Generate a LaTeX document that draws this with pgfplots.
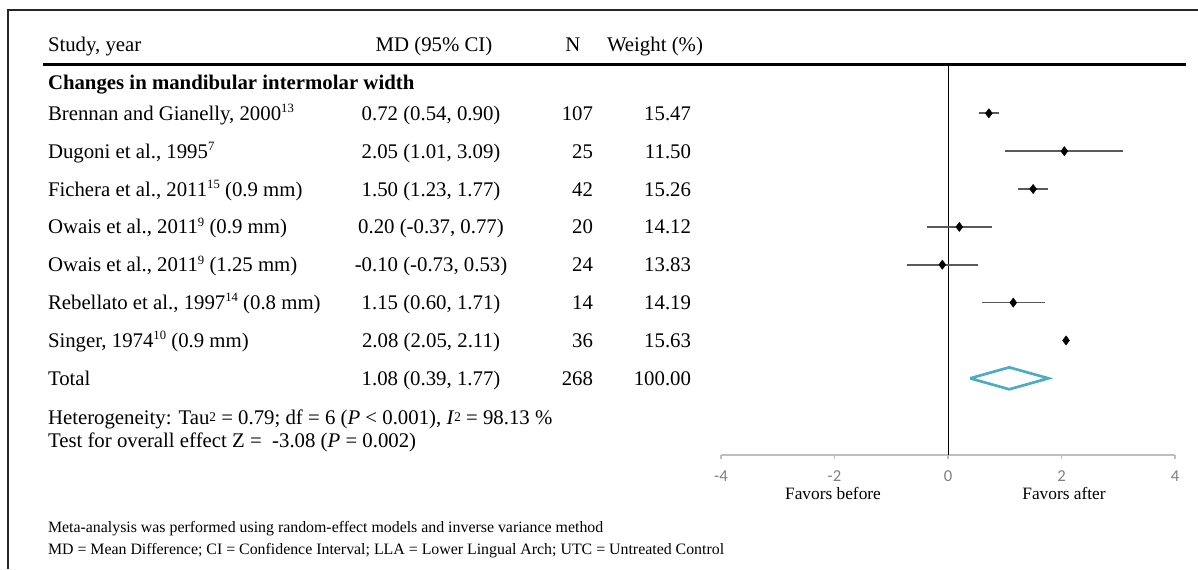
\documentclass[border=0pt]{standalone}
\usepackage{pgfplots}
\pgfplotsset{compat=1.18}
\usepackage{pgfplotstable}
\usepackage{fontspec}
\setmainfont{Liberation Serif}
\newfontfamily\tickfont{Carlito}

\definecolor{pooled}{HTML}{4BACC6}
\definecolor{cigray}{HTML}{595959}
\definecolor{axgray}{HTML}{BFBFBF}
\definecolor{tickgray}{HTML}{7F7F7F}

\newcommand\bodyfont{\fontsize{15.6pt}{18pt}\selectfont}
\newcommand\notefont{\fontsize{11.9pt}{14pt}\selectfont}
\newcommand\sidefont{\fontsize{13pt}{15pt}\selectfont}
\newcommand\refno[1]{\raisebox{0.8ex}{\fontsize{9.5pt}{10pt}\selectfont #1}}

% row position (counted from the bottom), mean difference, 95% CI
\pgfplotstableread{
row md lo hi
8 0.72 0.54 0.90
7 2.05 1.01 3.09
6 1.50 1.23 1.77
5 0.20 -0.37 0.77
4 -0.10 -0.73 0.53
3 1.15 0.60 1.71
2 2.08 2.05 2.11
}\studies

\begin{document}
\begin{tikzpicture}[x=0.75pt,y=-0.75pt,
  txt/.style={inner sep=0pt,outer sep=0pt,font=\bodyfont}]
\useasboundingbox (0,0) rectangle (1198,569);

% frame and header rule
\draw[line width=1.1pt,black!85] (8,569) -- (8,10) -- (1198,10);
\draw[line width=1.9pt] (43,64.5) -- (1186,64.5);

% header
\node[txt,anchor=base west] at (48,51.5) {Study, year};
\node[txt,anchor=base] at (434,51.5) {MD (95\% CI)};
\node[txt,anchor=base] at (573,51.5) {N};
\node[txt,anchor=base west] at (607,51.5) {Weight (\%)};

\node[txt,anchor=base west] at (48,89) {\bfseries Changes in mandibular intermolar width};

% study rows
\node[txt,anchor=base west] at (48,120.3) {Brennan and Gianelly, 2000\refno{13}};
\node[txt,anchor=base west] at (48,158.2) {Dugoni et al., 1995\refno{7}};
\node[txt,anchor=base west] at (48,196.0) {Fichera et al., 2011\refno{15} (0.9 mm)};
\node[txt,anchor=base west] at (48,233.9) {Owais et al., 2011\refno{9} (0.9 mm)};
\node[txt,anchor=base west] at (48,271.7) {Owais et al., 2011\refno{9} (1.25 mm)};
\node[txt,anchor=base west] at (48,309.6) {Rebellato et al., 1997\refno{14} (0.8 mm)};
\node[txt,anchor=base west] at (48,347.5) {Singer, 1974\refno{10} (0.9 mm)};
\node[txt,anchor=base west] at (48,385.3) {Total};

\node[txt,anchor=base] at (431,120.3) {0.72 (0.54, 0.90)};
\node[txt,anchor=base] at (431,158.2) {2.05 (1.01, 3.09)};
\node[txt,anchor=base] at (431,196.0) {1.50 (1.23, 1.77)};
\node[txt,anchor=base] at (431,233.9) {0.20 (-0.37, 0.77)};
\node[txt,anchor=base] at (431,271.7) {-0.10 (-0.73, 0.53)};
\node[txt,anchor=base] at (431,309.6) {1.15 (0.60, 1.71)};
\node[txt,anchor=base] at (431,347.5) {2.08 (2.05, 2.11)};
\node[txt,anchor=base] at (431,385.3) {1.08 (0.39, 1.77)};

\node[txt,anchor=base east] at (593,120.3) {107};
\node[txt,anchor=base east] at (593,158.2) {25};
\node[txt,anchor=base east] at (593,196.0) {42};
\node[txt,anchor=base east] at (593,233.9) {20};
\node[txt,anchor=base east] at (593,271.7) {24};
\node[txt,anchor=base east] at (593,309.6) {14};
\node[txt,anchor=base east] at (593,347.5) {36};
\node[txt,anchor=base east] at (593,385.3) {268};

\node[txt,anchor=base east] at (691,120.3) {15.47};
\node[txt,anchor=base east] at (691,158.2) {11.50};
\node[txt,anchor=base east] at (691,196.0) {15.26};
\node[txt,anchor=base east] at (691,233.9) {14.12};
\node[txt,anchor=base east] at (691,271.7) {13.83};
\node[txt,anchor=base east] at (691,309.6) {14.19};
\node[txt,anchor=base east] at (691,347.5) {15.63};
\node[txt,anchor=base east] at (691,385.3) {100.00};

% heterogeneity and overall effect
\node[txt,anchor=base west] at (48,424.5) {Heterogeneity: Tau\raisebox{0.35ex}{\fontsize{10pt}{10pt}\selectfont 2} = 0.79; df = 6 (\textit{P} < 0.001), \textit{I}\raisebox{0.35ex}{\fontsize{10pt}{10pt}\selectfont 2} = 98.13 \%};
\node[txt,anchor=base west] at (48,447.5) {Test for overall effect Z =\ \ -3.08 (\textit{P} = 0.002)};

% notes
\node[txt,font=\notefont,anchor=base west] at (48,532.5) {Meta-analysis was performed using random-effect models and inverse variance method};
\node[txt,font=\notefont,anchor=base west] at (48,554.5) {MD = Mean Difference; CI = Confidence Interval; LLA = Lower Lingual Arch; UTC = Untreated Control};

% direction labels
\node[txt,font=\sidefont,anchor=base] at (833,499) {Favors before};
\node[txt,font=\sidefont,anchor=base] at (1064,499) {Favors after};

\begin{axis}[
  at={(540.75pt,-341.25pt)}, anchor=south west,
  scale only axis, width=340.5pt, height=293.25pt,
  xmin=-4, xmax=4, ymin=-1.026, ymax=9.302,
  axis x line=bottom, axis y line=none,
  x axis line style={draw=axgray,line width=1.1pt,-},
  xtick={-4,-2,0,2,4}, xticklabels={-4,-2,0,2,4},
  tick align=outside, major tick length=3pt,
  tick style={draw=axgray,line width=1pt},
  xticklabel style={font=\tickfont\fontsize{12.5pt}{12.5pt}\selectfont,text=tickgray,yshift=-5pt},
  clip=false,
]
% line of no effect
\addplot[black,line width=0.75pt] coordinates {(0,-1.026) (0,9.302)};
% confidence intervals
\addplot[draw=none,mark=none,
  error bars/.cd, x dir=both, x explicit, error mark=none,
  error bar style={draw=cigray,line width=1.25pt}]
  table[x=md,y=row,
        x error plus expr=\thisrow{hi}-\thisrow{md},
        x error minus expr=\thisrow{md}-\thisrow{lo}] {\studies};
% point estimates
\addplot[only marks,mark=diamond*,mark size=3.4pt,black] table[x=md,y=row] {\studies};
% pooled estimate 1.08 (0.39, 1.77)
\addplot[draw=pooled,line width=2pt,line join=miter]
  coordinates {(0.39,1) (1.08,1.29) (1.77,1) (1.08,0.71) (0.39,1)};
\end{axis}
\end{tikzpicture}
\end{document}
